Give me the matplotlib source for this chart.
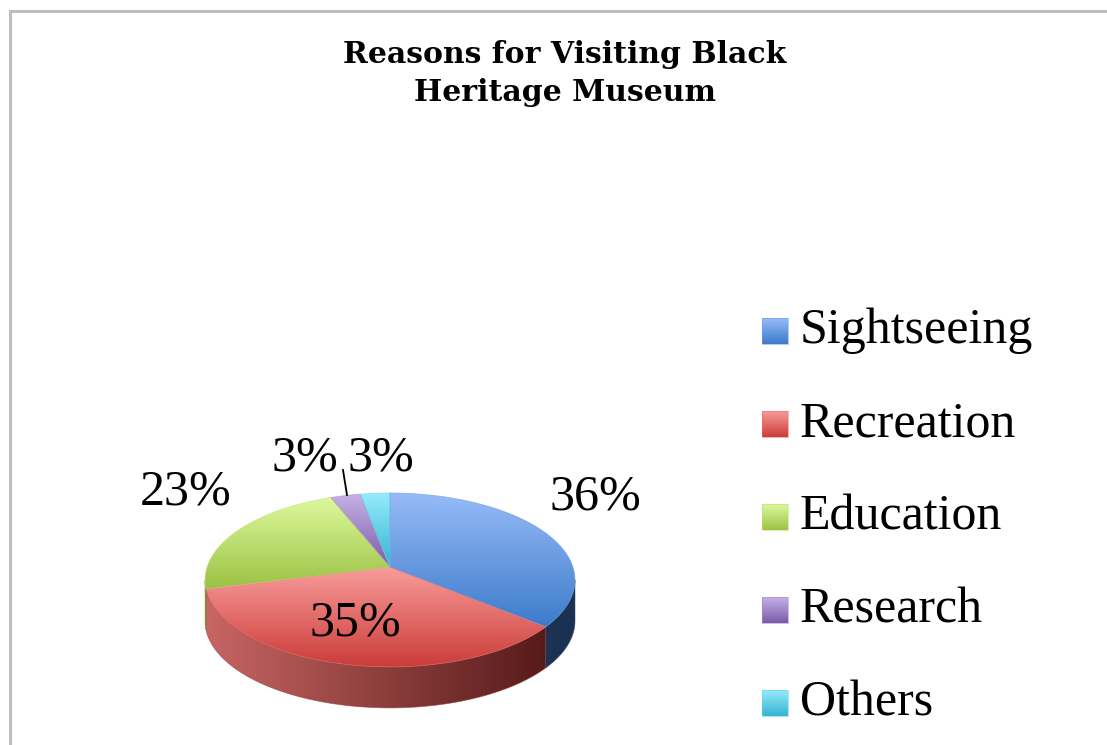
import numpy as np
import matplotlib
matplotlib.use("Agg")
import matplotlib.pyplot as plt
from matplotlib.patches import Polygon
from matplotlib.colors import to_rgb

# ---------------- data ----------------
categories = ["Sightseeing", "Recreation", "Education", "Research", "Others"]
values = [36, 35, 23, 3, 3]
label_texts = ["36%", "35%", "23%", "3%", "3%"]
title = "Reasons for Visiting Black\nHeritage Museum"

# ---------------- style ----------------
top_colors = [("#97BBF7", "#3C7BCB"),
              ("#F89C9A", "#CB3C39"),
              ("#DDF99D", "#9BC244"),
              ("#C7B1E7", "#7A5BA7"),
              ("#96EBFB", "#35B4D2")]
side_colors = [("#2A4A75", "#1B3152"),
               ("#C86664", "#4C1412"),
               ("#8EA845", "#6E8A2E"),
               ("#6A4E92", "#4E3A6E"),
               ("#2C9BB4", "#1F7F95")]

W, H = 1107, 745
fig = plt.figure(figsize=(W / 100, H / 100), dpi=100)
ax = fig.add_axes([0, 0, 1, 1])
ax.set_xlim(0, W)
ax.set_ylim(H, 0)
ax.axis("off")

serif = ["Liberation Serif", "DejaVu Serif"]

# frame of the chart area
ax.plot([10, 10, W + 5], [H + 5, 10.5, 10.5], color="#BEBEBE", lw=2.2,
        solid_joinstyle="miter", zorder=1)

# pie geometry (layout): perspective projection of a tilted disc
cx, cy0, rxp, ryp, kp, depth = 390, 567, 182.9, 85.0, 0.149, 41


def pt(t, dy=0.0):
    u, v = np.sin(t), np.cos(t)
    d = 1 + kp * v
    return np.column_stack([cx + rxp * u / d, cy0 - ryp * v / d + dy])


def grad_fill(verts, c0, c1, vertical=True, z=2, span=None):
    poly = Polygon(verts, closed=True, facecolor="none", edgecolor="none",
                   transform=ax.transData)
    ax.add_patch(poly)
    x0, x1 = verts[:, 0].min(), verts[:, 0].max()
    y0, y1 = verts[:, 1].min(), verts[:, 1].max()
    if span is not None:
        x0, x1 = span
    n = 256
    s = np.linspace(0, 1, n)[:, None]
    a, b = np.array(to_rgb(c0)), np.array(to_rgb(c1))
    cols = a[None, :] * (1 - s) + b[None, :] * s
    img = cols[:, None, :] if vertical else cols[None, :, :]
    im = ax.imshow(img, extent=(x0, x1, y1, y0), origin="upper",
                   aspect="auto", interpolation="bilinear", zorder=z)
    im.set_clip_path(poly)
    mid = (a + b) / 2
    ax.add_patch(Polygon(verts, closed=True, facecolor="none",
                         edgecolor=mid, lw=0.6, zorder=z + 0.1, alpha=0.6))


fr = np.array(values, dtype=float) / np.sum(values)
bounds = np.concatenate([[0], np.cumsum(fr)]) * 2 * np.pi

# visible side faces: between the silhouette points (cos t = -k)
t_lo = np.arccos(-kp)
t_hi = 2 * np.pi - t_lo
for i in range(len(values)):
    t0, t1 = max(bounds[i], t_lo), min(bounds[i + 1], t_hi)
    if t1 <= t0:
        continue
    t = np.linspace(t0, t1, 120)
    verts = np.vstack([pt(t), pt(t[::-1], depth)])
    grad_fill(verts, side_colors[i][1], side_colors[i][0], vertical=False,
              z=2, span=(cx + rxp * 1.012, cx - rxp * 1.012))

# top faces
for i in range(len(values)):
    t = np.linspace(bounds[i], bounds[i + 1], 200)
    verts = np.vstack([[[cx, cy0]], pt(t)])
    grad_fill(verts, top_colors[i][0], top_colors[i][1], vertical=True, z=3)

# data labels (layout positions)
label_pos = [(595, 497), (355, 623), (186, 492), (305, 458), (381, 458)]
for txt, (x, y) in zip(label_texts, label_pos):
    ax.text(x, y, txt, ha="center", va="center", fontsize=36,
            family=serif, color="black", zorder=5)
# leader line for the small Research slice
ax.plot([343, 347], [470, 495], color="black", lw=1.3, zorder=5)

# title (two lines, baselines as in the reference)
for j, line in enumerate(title.split("\n")):
    ax.text(565, 63 + 38 * j, line, ha="center", va="baseline", fontsize=21.5,
            family=["DejaVu Serif"], fontweight="bold", zorder=5)

# legend
for i, name in enumerate(categories):
    yc = 331 + i * 93
    sq = np.array([[762, yc - 13], [788, yc - 13], [788, yc + 13], [762, yc + 13]])
    grad_fill(sq, top_colors[i][0], top_colors[i][1], vertical=True, z=4)
    ax.text(800, yc, name, ha="left", va="center", fontsize=36,
            family=serif, zorder=5)

ax.set_xlim(0, W)
ax.set_ylim(H, 0)
fig.savefig("out.png", dpi=100, facecolor="white")
